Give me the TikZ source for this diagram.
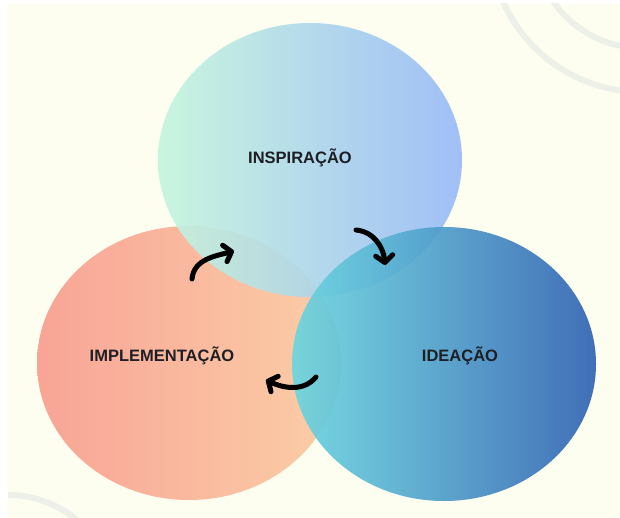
\documentclass[tikz,border=0pt]{standalone}
\usepackage{fontspec}
\setmainfont{Liberation Sans}
\usetikzlibrary{positioning,shapes.geometric,arrows.meta}
\definecolor{bgcream}{HTML}{FDFEF0}
\definecolor{decoline}{HTML}{ECF0E8}
\definecolor{inspleft}{HTML}{C4F5DD}
\definecolor{inspright}{HTML}{98B9F8}
\definecolor{implleft}{HTML}{F89C8E}
\definecolor{implright}{HTML}{FBCAA0}
\definecolor{idealeft}{HTML}{6AD6E0}
\definecolor{idearight}{HTML}{2F61B3}
\definecolor{labeltext}{HTML}{1E1F24}

\begin{document}
\begin{tikzpicture}[x=1pt,y=1pt,
          arrowstyle/.style={-{Straight Barb[length=7pt,width=17pt,round]}, line width=5pt, line cap=round}]
          % A bubble style and a label style
          \tikzstyle{bubble} = [ellipse, minimum width=304pt, minimum height=274pt, inner sep=0pt, fill opacity=0.91]
          \tikzstyle{phase} = [font=\bfseries\fontsize{16.5}{20}\selectfont, text=labeltext, inner sep=0pt]

          % Background with the soft arcs
          \fill[white] (0,0) rectangle (620,-518);
          \fill[bgcream] (8,-4) rectangle (620,-518);
          \useasboundingbox (0,0) rectangle (620,-518);
          \begin{scope}
            \clip (8,-4) rectangle (620,-518);
            \draw[decoline, line width=6pt] (642,60) circle (152pt);
            \draw[decoline, line width=6pt] (642,60) circle (108pt);
            \draw[decoline, line width=6pt] (8,-602) circle (107pt);
          \end{scope}

          % The three phases, left one first
          \node (impl) [bubble, left color=implleft, right color=implright] at (189,-363) {};
          \node (insp) [bubble, left color=inspleft, right color=inspright] at (310,-160) {};
          \node (idea) [bubble, left color=idealeft, right color=idearight] at (444,-364) {};

          % Labels
          \node (lblinsp) [phase] at (300,-158) {INSPIRAÇÃO};
          \node (lblimpl) [phase] at (162,-356) {IMPLEMENTAÇÃO};
          \node (lblidea) [phase] at (460,-356) {IDEAÇÃO};

          % Ends of the cycle arrows
          \coordinate (implout) at (192,-279);
          \coordinate (inspin)  at (234,-251);
          \coordinate (inspout) at (356,-230);
          \coordinate (ideain)  at (385,-265);
          \coordinate (ideaout) at (316,-377);
          \coordinate (implin)  at (266,-380);

          % Draw the cycle
          \draw[arrowstyle] (implout) to[out=85, in=195] (inspin);
          \draw[arrowstyle] (inspout) to[out=-5, in=95] (ideain);
          \draw[arrowstyle] (ideaout) to[out=-130, in=-25] (implin);
\end{tikzpicture}
\end{document}
